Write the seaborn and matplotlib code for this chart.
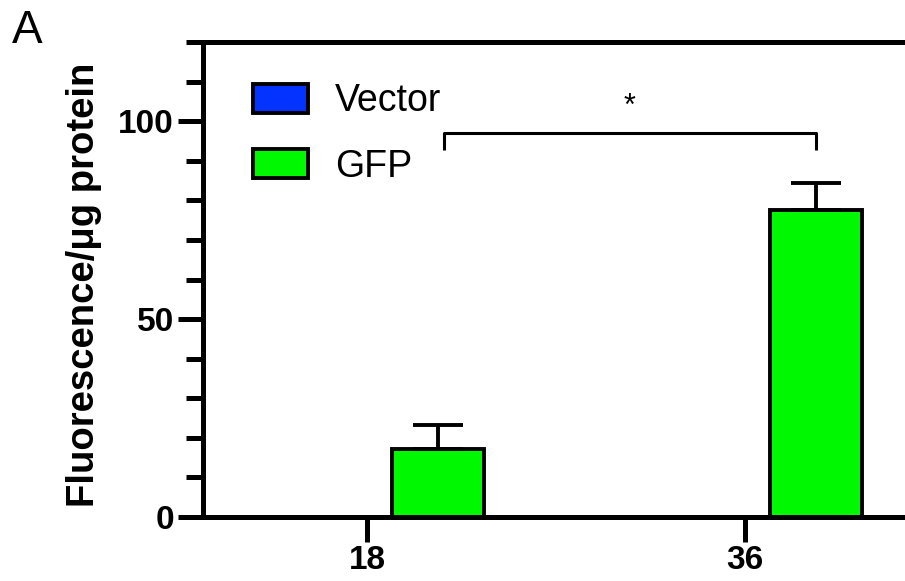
import matplotlib
matplotlib.use("Agg")
import matplotlib.pyplot as plt
from matplotlib.ticker import MultipleLocator
import seaborn as sns
import pandas as pd

# ---- data ----
times = ["18", "36"]
groups = ["Vector", "GFP"]
vector_means = [0.0, 0.0]
vector_err = [0.0, 0.0]
gfp_means = [17.3, 77.5]
gfp_err = [6.0, 6.8]
colors = {"Vector": "#0433FF", "GFP": "#00F900"}

df = pd.DataFrame({
    "time": times + times,
    "group": ["Vector"] * 2 + ["GFP"] * 2,
    "value": vector_means + gfp_means,
})
errs = {"Vector": vector_err, "GFP": gfp_err}

sns.set_style("ticks")
plt.rcParams["font.family"] = ["Liberation Sans", "DejaVu Sans"]
plt.rcParams["text.color"] = "black"
plt.rcParams["axes.labelcolor"] = "black"
plt.rcParams["xtick.color"] = "black"
plt.rcParams["ytick.color"] = "black"

fig = plt.figure(figsize=(9.05, 5.81), dpi=100)
ax = fig.add_axes([203 / 905, 64 / 581, 1 - 203 / 905, 475 / 581])

sns.barplot(data=df, x="time", y="value", hue="group", order=times,
            hue_order=groups, palette=colors, width=0.75, gap=0.35,
            errorbar=None, edgecolor="black", linewidth=2.8, ax=ax,
            legend=True, saturation=1)

# error bars (upper only)
centers = {}
for cont, g in zip(ax.containers, groups):
    xs, ys = [], []
    for bar in cont:
        xs.append(bar.get_x() + bar.get_width() / 2)
        ys.append(bar.get_height())
    centers[g] = xs
    if g == "GFP":
        ax.errorbar(xs, ys, yerr=[[0] * len(ys), errs[g]], fmt="none",
                    ecolor="black", elinewidth=2.8, capsize=18,
                    capthick=2.8, zorder=1)

ax.set_ylim(0, 120)
ax.set_xlim(-0.434, 1.423)
ax.yaxis.set_major_locator(MultipleLocator(50))
ax.yaxis.set_minor_locator(MultipleLocator(10))

for s in ["left", "bottom", "top"]:
    ax.spines[s].set_linewidth(3.6)
    ax.spines[s].set_color("black")
ax.spines["right"].set_visible(False)

ax.tick_params(axis="both", which="major", length=18, width=3.6,
               labelsize=24, color="black", labelcolor="black")
ax.tick_params(axis="y", which="major", pad=3)
ax.tick_params(axis="x", which="major", pad=2)
ax.tick_params(axis="y", which="minor", length=12, width=3.6, color="black")
for lab in ax.get_xticklabels() + ax.get_yticklabels():
    lab.set_fontweight("bold")

ax.set_xlabel("")
ax.set_ylabel("Fluorescence/μg protein", fontsize=27.5, fontweight="bold",
              color="black")
ax.yaxis.set_label_coords(-0.144, 0.489)

# legend
handles, labels = ax.get_legend_handles_labels()
ax.legend(handles, labels, loc="upper left",
          bbox_to_anchor=(0.071, 0.913), frameon=False, fontsize=27,
          handlelength=1.47, handleheight=0.83, handletextpad=0.72,
          labelspacing=0.78, borderpad=0, borderaxespad=0)

# significance bracket
x1 = centers["GFP"][0] + 0.015
x2 = centers["GFP"][1]
ax.plot([x1, x1, x2, x2], [92.8, 96.9, 96.9, 92.8], color="black",
        lw=2.2, solid_capstyle="butt", clip_on=False)
ax.text((x1 + x2) / 2, 101.5, "*", ha="center", va="baseline", fontsize=22)

fig.text(12 / 905, (581 - 43) / 581, "A", fontsize=33, ha="left",
         va="baseline")

fig.savefig("out.png", dpi=100)
